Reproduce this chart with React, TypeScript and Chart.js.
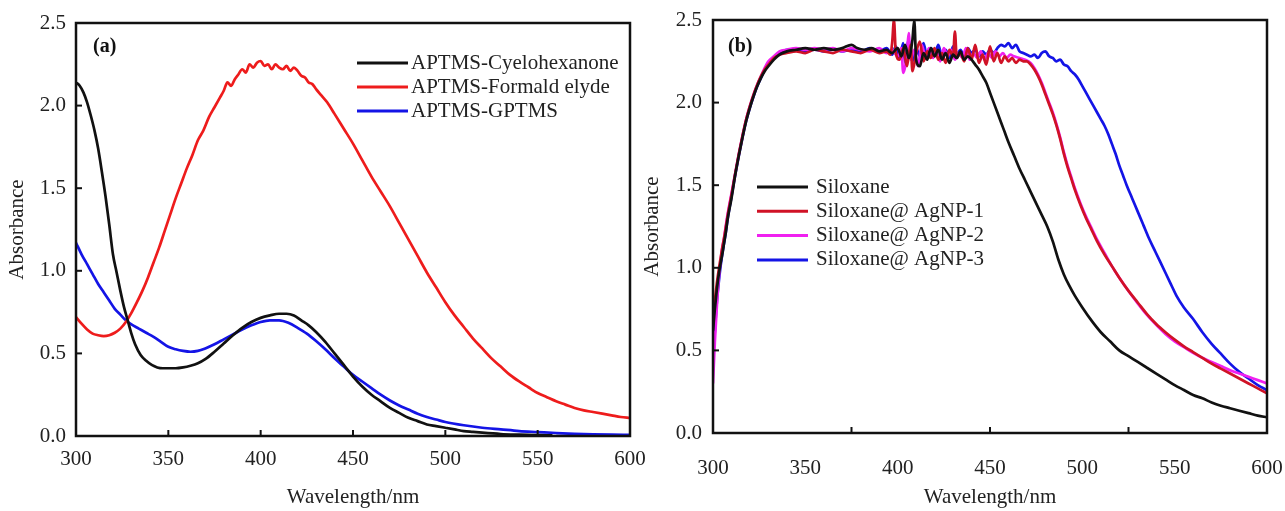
import React, { useEffect, useRef } from "react";
import { Chart, registerables } from "chart.js";

Chart.register(...registerables);

const FONT = "'Liberation Serif', 'Times New Roman', Times, serif";

// ---------- shared axis values ----------
const xTickLabels = [300, 350, 400, 450, 500, 550, 600];
const yTickLabels = [0, 0.5, 1.0, 1.5, 2.0, 2.5];
const aXTickMarks = [350, 400, 450, 500, 550];
const aYTickMarks = [0.5, 1.0, 1.5, 2.0];
const bXTickMarks = [375, 450, 525];
const bYTickMarks = [0.5, 1.0, 1.5, 2.0];

// ---------- panel (a) ----------
const aLabels = ["APTMS-Cyelohexanone", "APTMS-Formald elyde", "APTMS-GPTMS"];

const aCyeloX = [300, 302, 304, 306, 308, 310, 312, 314, 316, 318, 320, 322, 324, 326, 328, 330, 332, 335, 338, 341, 344, 347, 350, 354, 358, 362, 366, 370, 375, 380, 385, 390, 395, 400, 405, 410, 414, 418, 422, 426, 430, 435, 440, 445, 450, 455, 460, 465, 470, 475, 480, 485, 490, 495, 500, 505, 510, 515, 520, 530, 540, 550, 558];
const aCyeloY = [2.14, 2.12, 2.08, 2.02, 1.94, 1.85, 1.74, 1.6, 1.45, 1.28, 1.1, 0.99, 0.88, 0.78, 0.7, 0.62, 0.555, 0.49, 0.455, 0.43, 0.415, 0.41, 0.41, 0.41, 0.415, 0.425, 0.44, 0.465, 0.51, 0.56, 0.61, 0.655, 0.69, 0.715, 0.73, 0.74, 0.74, 0.73, 0.7, 0.67, 0.63, 0.57, 0.5, 0.43, 0.36, 0.3, 0.25, 0.21, 0.17, 0.14, 0.11, 0.09, 0.07, 0.06, 0.05, 0.04, 0.03, 0.025, 0.02, 0.012, 0.008, 0.005, 0.004];

const aFormX = [300, 303, 306, 309, 312, 315, 318, 321, 324, 327, 330, 333, 336, 339, 342, 345, 348, 351, 354, 357, 360, 363, 366, 369, 372, 375, 378, 380, 382, 384, 386, 388, 390, 392, 394, 396, 398, 400, 402, 404, 406, 408, 410, 412, 414, 416, 418, 420, 422, 424, 426, 428, 430, 433, 436, 440, 445, 450, 455, 460, 465, 470, 475, 480, 485, 490, 495, 500, 505, 510, 515, 520, 525, 530, 535, 540, 545, 550, 555, 560, 565, 570, 575, 580, 585, 590, 595, 600];
const aFormY = [0.72, 0.68, 0.645, 0.62, 0.61, 0.605, 0.61, 0.625, 0.65, 0.69, 0.745, 0.81, 0.88, 0.96, 1.05, 1.14, 1.24, 1.34, 1.44, 1.53, 1.62, 1.7, 1.79, 1.85, 1.93, 1.99, 2.05, 2.09, 2.14, 2.12, 2.16, 2.19, 2.22, 2.2, 2.25, 2.23, 2.26, 2.27, 2.24, 2.25, 2.22, 2.25, 2.23, 2.22, 2.24, 2.21, 2.23, 2.21, 2.18, 2.17, 2.14, 2.13, 2.1, 2.06, 2.02, 1.95, 1.86, 1.77, 1.67, 1.57, 1.48, 1.39, 1.29, 1.19, 1.09, 0.99, 0.9, 0.81, 0.73, 0.66, 0.59, 0.53, 0.47, 0.42, 0.37, 0.33, 0.295, 0.26, 0.235, 0.21, 0.19, 0.17, 0.155, 0.145, 0.135, 0.125, 0.115, 0.11];

const aGptmsX = [300, 303, 306, 309, 312, 315, 318, 321, 324, 327, 330, 334, 338, 342, 346, 350, 354, 358, 362, 366, 370, 375, 380, 385, 390, 395, 400, 405, 410, 415, 420, 425, 430, 435, 440, 445, 450, 455, 460, 465, 470, 475, 480, 485, 490, 495, 500, 510, 520, 530, 540, 550, 560, 570, 580, 590, 600];
const aGptmsY = [1.17, 1.1, 1.04, 0.98, 0.92, 0.87, 0.82, 0.77, 0.735, 0.7, 0.675, 0.65, 0.625, 0.6, 0.57, 0.54, 0.525, 0.515, 0.51, 0.515, 0.53, 0.555, 0.585, 0.615, 0.645, 0.67, 0.69, 0.7, 0.7, 0.685, 0.655, 0.62, 0.575, 0.525, 0.47, 0.42, 0.37, 0.33, 0.29, 0.25, 0.215, 0.185, 0.16, 0.135, 0.115, 0.1, 0.085, 0.065, 0.05, 0.04, 0.03, 0.024, 0.018, 0.013, 0.01, 0.008, 0.007];

// ---------- panel (b) ----------
const bLabels = ["Siloxane", "Siloxane@ AgNP-1", "Siloxane@ AgNP-2", "Siloxane@ AgNP-3"];

const bSilX = [300, 301, 302, 303, 304, 305, 306, 307, 308, 310, 312, 314, 316, 318, 320, 322, 324, 326, 328, 330, 333, 336, 340, 345, 350, 355, 360, 365, 370, 375, 378, 382, 386, 390, 394, 397, 400, 402, 404, 406, 408, 409, 410, 412, 414, 416, 418, 420, 422, 424, 426, 428, 430, 432, 434, 436, 438, 440, 442, 444, 446, 448, 450, 452, 454, 456, 458, 460, 463, 466, 469, 472, 475, 478, 481, 484, 487, 490, 493, 496, 500, 505, 510, 515, 520, 525, 530, 535, 540, 545, 550, 555, 560, 565, 570, 575, 580, 585, 590, 595, 600];
const bSilY = [0.62, 0.75, 0.86, 0.95, 1.02, 1.08, 1.15, 1.22, 1.3, 1.42, 1.56, 1.68, 1.79, 1.89, 1.97, 2.04, 2.1, 2.15, 2.19, 2.22, 2.26, 2.29, 2.31, 2.32, 2.33, 2.32, 2.33, 2.32, 2.33, 2.35, 2.33, 2.32, 2.33, 2.31, 2.32, 2.3, 2.33, 2.28, 2.35, 2.27, 2.38, 2.5, 2.26, 2.22, 2.3, 2.26, 2.33, 2.28, 2.32, 2.26, 2.3, 2.24, 2.29, 2.27, 2.31, 2.26, 2.28, 2.26, 2.23, 2.2, 2.16, 2.12, 2.06, 2.0, 1.94, 1.88, 1.82, 1.76, 1.68, 1.6, 1.53, 1.46, 1.39, 1.32, 1.25, 1.16, 1.05, 0.96, 0.89, 0.83, 0.76, 0.68, 0.61, 0.555, 0.5, 0.465, 0.43, 0.395, 0.36, 0.325, 0.29, 0.26, 0.23, 0.21, 0.185, 0.165, 0.15, 0.135, 0.12, 0.105, 0.095];

const bAg1X = [300, 301, 302, 303, 304, 305, 306, 307, 308, 310, 312, 314, 316, 318, 320, 322, 324, 326, 328, 330, 333, 336, 340, 345, 350, 355, 360, 365, 370, 375, 380, 385, 390, 394, 396, 397, 398, 399, 401, 403, 405, 407, 408, 410, 412, 414, 416, 418, 420, 422, 424, 426, 428, 430, 431, 432, 434, 436, 438, 440, 442, 444, 446, 448, 450, 452, 454, 456, 458, 460, 462, 464, 466, 468, 470, 472, 474, 476, 478, 480, 482, 484, 486, 488, 490, 492, 494, 496, 499, 502, 505, 508, 512, 516, 520, 525, 530, 535, 540, 545, 550, 555, 560, 565, 570, 575, 580, 585, 590, 595, 600];
const bAg1Y = [0.7, 0.8, 0.9, 0.98, 1.05, 1.12, 1.18, 1.25, 1.32, 1.44, 1.57, 1.69, 1.8, 1.9, 1.98, 2.05, 2.11, 2.16, 2.2, 2.23, 2.27, 2.29, 2.3, 2.31, 2.3, 2.32, 2.31, 2.3, 2.32, 2.31, 2.3, 2.32, 2.3, 2.31, 2.29, 2.36, 2.5, 2.3, 2.26, 2.33, 2.22, 2.35, 2.19, 2.3, 2.37, 2.25, 2.31, 2.27, 2.33, 2.26, 2.3, 2.24, 2.32, 2.28, 2.43, 2.27, 2.3, 2.25, 2.33, 2.26, 2.35, 2.24, 2.29, 2.23, 2.34, 2.25, 2.3, 2.24, 2.28, 2.25, 2.27, 2.24, 2.26, 2.25, 2.25, 2.23, 2.2, 2.16, 2.11, 2.05, 1.99, 1.93, 1.86, 1.78, 1.69, 1.61, 1.54, 1.47, 1.38, 1.3, 1.23, 1.16, 1.08, 1.01, 0.94, 0.86, 0.79, 0.72, 0.66, 0.61, 0.565, 0.525, 0.49, 0.455, 0.42, 0.39, 0.36, 0.33, 0.3, 0.27, 0.24];

const bAg2X = [300, 301, 302, 303, 304, 305, 306, 307, 308, 310, 312, 314, 316, 318, 320, 322, 324, 326, 328, 330, 333, 336, 340, 345, 350, 355, 360, 365, 370, 375, 380, 385, 390, 394, 397, 400, 402, 403, 405, 406, 407, 409, 411, 413, 415, 417, 419, 421, 423, 425, 427, 429, 431, 433, 435, 437, 439, 441, 443, 445, 447, 449, 451, 453, 455, 457, 459, 461, 463, 466, 469, 472, 474, 476, 478, 480, 482, 484, 486, 488, 490, 492, 494, 496, 499, 502, 505, 508, 512, 516, 520, 525, 530, 535, 540, 545, 550, 555, 560, 565, 570, 575, 580, 585, 590, 595, 600];
const bAg2Y = [0.3, 0.55, 0.75, 0.92, 1.03, 1.12, 1.18, 1.26, 1.33, 1.45, 1.57, 1.69, 1.8, 1.9, 1.98, 2.05, 2.11, 2.16, 2.21, 2.25, 2.28, 2.31, 2.32, 2.33, 2.32, 2.33, 2.32, 2.33, 2.31, 2.33, 2.32, 2.31, 2.33, 2.3, 2.32, 2.28, 2.33, 2.18, 2.3, 2.42, 2.26, 2.32, 2.22, 2.35, 2.28, 2.33, 2.27, 2.31, 2.25, 2.33, 2.28, 2.32, 2.26, 2.3, 2.27, 2.33, 2.26, 2.3, 2.27, 2.31, 2.26, 2.3, 2.27, 2.31, 2.28, 2.3, 2.27, 2.29, 2.28, 2.27, 2.26, 2.24, 2.21, 2.17, 2.12, 2.06, 2.0, 1.94, 1.87, 1.79, 1.7, 1.62, 1.55, 1.48, 1.39, 1.31, 1.24, 1.17, 1.09, 1.01, 0.94, 0.86, 0.785, 0.715, 0.655, 0.6, 0.555, 0.52, 0.485, 0.455, 0.43, 0.405, 0.38, 0.36, 0.34, 0.32, 0.3];

const bAg3X = [300, 301, 302, 303, 304, 305, 306, 307, 308, 310, 312, 314, 316, 318, 320, 322, 324, 326, 328, 330, 333, 336, 340, 345, 350, 355, 360, 365, 370, 375, 380, 385, 390, 394, 397, 399, 401, 403, 404, 406, 408, 410, 412, 414, 416, 418, 420, 422, 424, 426, 428, 430, 432, 434, 436, 438, 440, 442, 444, 446, 448, 450, 452, 454, 456, 458, 460, 462, 464, 466, 468, 470, 472, 474, 476, 478, 480, 482, 484, 486, 488, 490, 492, 494, 496, 498, 500, 502, 504, 506, 508, 510, 512, 514, 516, 518, 520, 522, 524, 527, 530, 533, 536, 539, 542, 545, 548, 551, 555, 560, 565, 570, 575, 580, 585, 590, 595, 600];
const bAg3Y = [0.45, 0.62, 0.78, 0.9, 1.0, 1.08, 1.15, 1.22, 1.3, 1.43, 1.56, 1.68, 1.79, 1.89, 1.97, 2.04, 2.1, 2.15, 2.2, 2.24, 2.27, 2.3, 2.32, 2.32, 2.31, 2.32, 2.31, 2.32, 2.31, 2.32, 2.31, 2.33, 2.31, 2.33, 2.29, 2.34, 2.27, 2.36, 2.24, 2.38, 2.25, 2.33, 2.28, 2.36, 2.27, 2.33, 2.29, 2.35, 2.28, 2.32, 2.27, 2.34, 2.29, 2.32, 2.28, 2.33, 2.3, 2.32, 2.28, 2.31, 2.29, 2.32, 2.3, 2.33, 2.35, 2.34, 2.36, 2.33, 2.35, 2.31, 2.3, 2.29, 2.28, 2.29, 2.27, 2.3, 2.31, 2.28, 2.27, 2.25, 2.26, 2.23, 2.22, 2.19, 2.17, 2.14, 2.1, 2.06, 2.02, 1.98, 1.94, 1.9, 1.86, 1.81, 1.75, 1.69, 1.62, 1.56, 1.5, 1.42, 1.34, 1.26, 1.18, 1.11, 1.04, 0.97, 0.9, 0.83, 0.76, 0.69, 0.61, 0.54, 0.48, 0.42, 0.37, 0.33, 0.29, 0.26];

// ---------- helpers ----------
function pts(xs: number[], ys: number[]) {
  return xs.map((x, i) => ({ x, y: ys[i] }));
}

const framePlugin = {
  id: "frame",
  afterDatasetsDraw(chart: any, _args: any, opts: any) {
    const { ctx, chartArea, scales } = chart;
    const { left, right, top, bottom } = chartArea;
    ctx.save();
    ctx.strokeStyle = "#111";
    ctx.lineWidth = 2.5;
    ctx.strokeRect(left, top, right - left, bottom - top);
    ctx.lineWidth = 2;
    const len = 6;
    (opts.xMarks || []).forEach((v: number) => {
      const px = scales.x.getPixelForValue(v);
      ctx.beginPath();
      ctx.moveTo(px, bottom);
      ctx.lineTo(px, bottom - len);
      ctx.stroke();
    });
    (opts.yMarks || []).forEach((v: number) => {
      const py = scales.y.getPixelForValue(v);
      ctx.beginPath();
      ctx.moveTo(left, py);
      ctx.lineTo(left + len, py);
      ctx.stroke();
    });
    // panel label
    ctx.fillStyle = "#111";
    ctx.font = `bold 20px ${FONT}`;
    ctx.textBaseline = "middle";
    ctx.textAlign = "left";
    ctx.fillText(opts.panel, opts.panelX, opts.panelY);
    // legend
    ctx.font = `21px ${FONT}`;
    chart.data.datasets.forEach((ds: any, i: number) => {
      const y = opts.legY + i * opts.legGap;
      ctx.strokeStyle = ds.borderColor;
      ctx.lineWidth = 3;
      ctx.beginPath();
      ctx.moveTo(opts.legX, y);
      ctx.lineTo(opts.legX + 51, y);
      ctx.stroke();
      ctx.fillStyle = "#222";
      ctx.fillText(ds.label, opts.legTextX, y);
    });
    ctx.restore();
  },
};

function makeConfig(datasets: any[], o: any) {
  return {
    type: "line",
    data: { datasets },
    options: {
      animation: false,
      responsive: false,
      devicePixelRatio: 1,
      layout: { padding: { left: 0, right: o.padRight, top: o.padTop, bottom: 0 } },
      elements: {
        point: { radius: 0 },
        line: { borderWidth: 2.7, cubicInterpolationMode: "monotone" },
      },
      plugins: {
        legend: { display: false },
        tooltip: { enabled: false },
        frame: o.frame,
      },
      scales: {
        x: {
          type: "linear",
          min: 300,
          max: 600,
          afterBuildTicks: (s: any) => {
            s.ticks = xTickLabels.map((v) => ({ value: v }));
          },
          afterFit: (s: any) => {
            s.height = o.xAxisHeight;
            s.paddingLeft = 0;
            s.paddingRight = 0;
          },
          ticks: {
            font: { family: FONT, size: 21 },
            color: "#222",
            padding: o.xTickPad,
            maxRotation: 0,
            autoSkip: false,
            callback: (v: any) => String(v),
          },
          grid: { display: false, drawTicks: false },
          border: { display: false },
          title: {
            display: true,
            text: "Wavelength/nm",
            font: { family: FONT, size: 21 },
            color: "#222",
            padding: { top: 0, bottom: 1 },
          },
        },
        y: {
          type: "linear",
          min: 0,
          max: 2.5,
          afterBuildTicks: (s: any) => {
            s.ticks = yTickLabels.map((v) => ({ value: v }));
          },
          afterFit: (s: any) => {
            s.width = o.yAxisWidth;
            s.paddingTop = 0;
            s.paddingBottom = 0;
          },
          ticks: {
            font: { family: FONT, size: 21 },
            color: "#222",
            padding: o.yTickPad,
            autoSkip: false,
            callback: (v: any) => Number(v).toFixed(1),
          },
          grid: { display: false, drawTicks: false },
          border: { display: false },
          title: {
            display: true,
            text: "Absorbance",
            font: { family: FONT, size: 21 },
            color: "#222",
            padding: { top: o.yTitlePad, bottom: 0 },
          },
        },
      },
    },
    plugins: [framePlugin],
  };
}

export default function App() {
  const refA = useRef<HTMLCanvasElement | null>(null);
  const refB = useRef<HTMLCanvasElement | null>(null);

  useEffect(() => {
    const dsA = [
      { label: aLabels[0], data: pts(aCyeloX, aCyeloY), borderColor: "#111111" },
      { label: aLabels[1], data: pts(aFormX, aFormY), borderColor: "#ee1c1c" },
      { label: aLabels[2], data: pts(aGptmsX, aGptmsY), borderColor: "#1414e6" },
    ];
    const dsB = [
      { label: bLabels[0], data: pts(bSilX, bSilY), borderColor: "#111111" },
      { label: bLabels[1], data: pts(bAg1X, bAg1Y), borderColor: "#d01226" },
      { label: bLabels[2], data: pts(bAg2X, bAg2Y), borderColor: "#f020f0" },
      { label: bLabels[3], data: pts(bAg3X, bAg3Y), borderColor: "#1414e6" },
    ];
    const chartA = new Chart(
      refA.current as HTMLCanvasElement,
      makeConfig(dsA, {
        padRight: 30,
        padTop: 23,
        xAxisHeight: 75,
        yAxisWidth: 76,
        xTickPad: 11,
        yTickPad: 10,
        yTitlePad: 5,
        frame: {
          xMarks: aXTickMarks,
          yMarks: aYTickMarks,
          panel: "(a)",
          panelX: 93,
          panelY: 47,
          legX: 357,
          legTextX: 411,
          legY: 63,
          legGap: 24,
        },
      }) as any
    );
    const chartB = new Chart(
      refB.current as HTMLCanvasElement,
      makeConfig(dsB, {
        padRight: 18,
        padTop: 20,
        xAxisHeight: 78,
        yAxisWidth: 73,
        xTickPad: 23,
        yTickPad: 11,
        yTitlePad: 0,
        frame: {
          xMarks: bXTickMarks,
          yMarks: bYTickMarks,
          panel: "(b)",
          panelX: 88,
          panelY: 47,
          legX: 117,
          legTextX: 176,
          legY: 187,
          legGap: 24.3,
        },
      }) as any
    );
    return () => {
      chartA.destroy();
      chartB.destroy();
    };
  }, []);

  return (
    <div
      style={{
        position: "absolute",
        left: 0,
        top: 0,
        width: 1285,
        height: 511,
        overflow: "hidden",
        background: "#fff",
      }}
    >
      <canvas
        ref={refA}
        width={660}
        height={511}
        style={{ position: "absolute", left: 0, top: 0, width: 660, height: 511 }}
      />
      <canvas
        ref={refB}
        width={645}
        height={511}
        style={{ position: "absolute", left: 640, top: 0, width: 645, height: 511 }}
      />
    </div>
  );
}
